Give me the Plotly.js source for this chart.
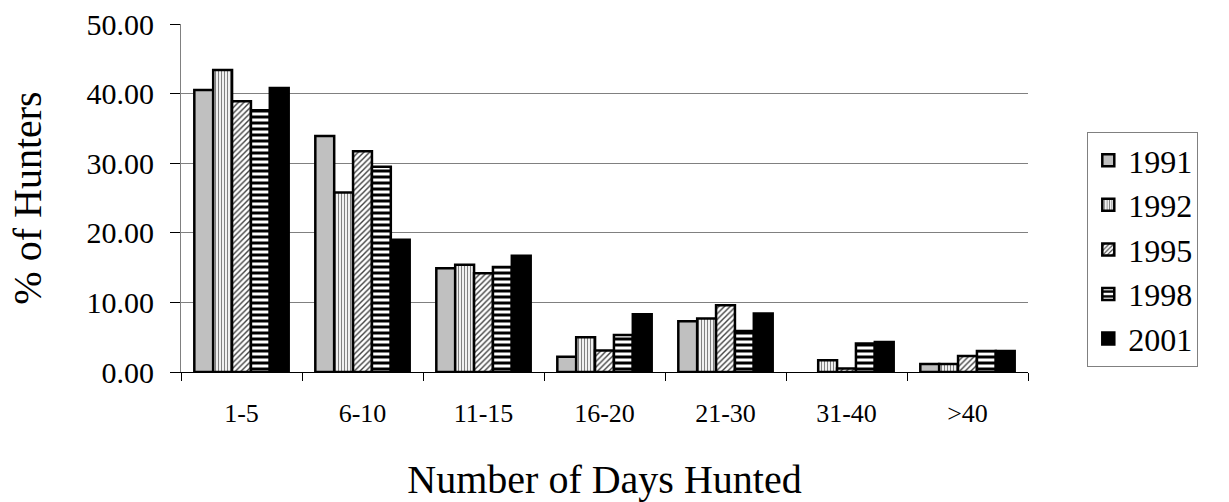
<!DOCTYPE html>
<html><head><meta charset="utf-8">
<script src="https://cdn.plot.ly/plotly-3.0.1.min.js"></script>
<style>html,body{margin:0;padding:0;background:#fff;}#chart{width:1229px;height:502px;}</style>
</head><body><div id="chart"></div>
<script>
const categories = ["1-5", "6-10", "11-15", "16-20", "21-30", "31-40", ">40"];
const years = ["1991", "1992", "1995", "1998", "2001"];
const v1991 = [40.5, 33.9, 14.9, 2.2, 7.3, null, 1.15];
const v1992 = [43.4, 25.8, 15.4, 5.0, 7.7, 1.7, 1.15];
const v1995 = [38.9, 31.7, 14.2, 3.1, 9.6, 0.5, 2.3];
const v1998 = [37.6, 29.5, 15.1, 5.3, 5.9, 4.1, 3.0];
const v2001 = [40.8, 19.0, 16.7, 8.3, 8.4, 4.3, 3.0];
const series = [v1991, v1992, v1995, v1998, v2001];

const styles = [
  {color: "#c0c0c0", pattern: {shape: ""}},
  {color: "#d8d8d8", pattern: {shape: "|", fgcolor: "#808080", bgcolor: "#f0f0f0", size: 3, solidity: 0.35, fillmode: "replace"}},
  {color: "#ffffff", pattern: {shape: "/", fgcolor: "#404040", bgcolor: "#ffffff", size: 4, solidity: 0.35, fillmode: "replace"}},
  {color: "#ffffff", pattern: {shape: "-", fgcolor: "#000000", bgcolor: "#ffffff", size: 6, solidity: 0.5, fillmode: "replace"}},
  {color: "#000000", pattern: {shape: ""}}
];

const traces = series.map((vals, i) => ({
  type: "bar",
  name: years[i],
  x: categories,
  y: vals,
  legendgroup: "g" + i,
  marker: {
    color: styles[i].color,
    pattern: styles[i].pattern,
    line: {color: "#000000", width: 2.5}
  }
}));

const serif = "'Liberation Serif', 'Times New Roman', serif";
const layout = {
  width: 1229, height: 502,
  margin: {l: 181, r: 201, t: 24, b: 130},
  paper_bgcolor: "#ffffff", plot_bgcolor: "#ffffff",
  barmode: "group",
  bargap: 0.22,
  bargroupgap: 0,
  showlegend: true,
  legend: {
    x: 1.07, xanchor: "left", y: 0.69, yanchor: "top",
    bordercolor: "#808080", borderwidth: 1,
    font: {family: serif, size: 32, color: "#000"},
    traceorder: "grouped", tracegroupgap: 0,
    itemwidth: 30,
    bgcolor: "#ffffff"
  },
  xaxis: {
    type: "category",
    tickson: "boundaries",
    ticks: "outside", ticklen: 8, tickcolor: "#000",
    ticklabelstandoff: 18,
    showline: true, linecolor: "#000", linewidth: 1,
    tickfont: {family: serif, size: 26, color: "#000"},
    title: {text: "Number of Days Hunted", font: {family: serif, size: 40, color: "#000"}, standoff: 48},
    showgrid: false
  },
  yaxis: {
    range: [0, 50],
    tickvals: [0, 10, 20, 30, 40, 50],
    ticktext: ["0.00", "10.00", "20.00", "30.00", "40.00", "50.00"],
    ticks: "outside", ticklen: 10, tickcolor: "#000",
    ticklabelstandoff: 10,
    showline: true, linecolor: "#808080", linewidth: 1,
    showgrid: true, gridcolor: "#808080", gridwidth: 1,
    zeroline: false,
    tickfont: {family: serif, size: 30, color: "#000"},
    title: {text: "% of Hunters", font: {family: serif, size: 40, color: "#000"}, standoff: 32}
  }
};

Plotly.newPlot("chart", traces, layout, {displayModeBar: false, staticPlot: true});
</script>
</body></html>
